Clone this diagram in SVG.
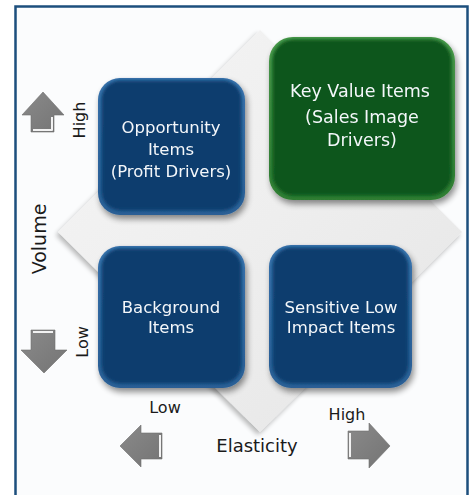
<svg xmlns="http://www.w3.org/2000/svg" width="474" height="495" viewBox="0 0 474 495">
  <defs>
    <style>
      .lbl { font-family: "DejaVu Sans", "Liberation Sans", sans-serif; fill: #1a1a1a; }
      .box-text { font-family: "DejaVu Sans", "Liberation Sans", sans-serif; fill: #f4f7fa; font-size: 16.5px; text-anchor: middle; }
      .box-text.big { font-size: 17.5px; }
      .arrow { fill: url(#arrowFill); stroke: #6e6e6e; stroke-width: 0.6; }
      .arrow-hi { fill: none; stroke: #f2f2f2; stroke-width: 2; stroke-linejoin: round; }
    </style>
    <linearGradient id="diamondFill" x1="0" y1="0" x2="1" y2="1">
      <stop offset="0" stop-color="#f5f5f5"/>
      <stop offset="0.5" stop-color="#eeeeee"/>
      <stop offset="1" stop-color="#e5e5e5"/>
    </linearGradient>
    <linearGradient id="arrowFill" x1="0" y1="0" x2="1" y2="1">
      <stop offset="0" stop-color="#8a8a8a"/>
      <stop offset="1" stop-color="#747474"/>
    </linearGradient>
    <linearGradient id="navyEdge" x1="0" y1="0" x2="0" y2="1">
      <stop offset="0" stop-color="#3a74ad"/>
      <stop offset="1" stop-color="#2a5f95"/>
    </linearGradient>
    <linearGradient id="greenEdge" x1="0" y1="0" x2="0" y2="1">
      <stop offset="0" stop-color="#4a9a4c"/>
      <stop offset="1" stop-color="#2f7d33"/>
    </linearGradient>
    <filter id="soft" x="-10%" y="-10%" width="120%" height="120%">
      <feGaussianBlur stdDeviation="1.4"/>
    </filter>
    <filter id="shadow" x="-15%" y="-15%" width="135%" height="135%">
      <feGaussianBlur in="SourceAlpha" stdDeviation="3"/>
      <feOffset dx="2" dy="4" result="b"/>
      <feComponentTransfer><feFuncA type="linear" slope="0.45"/></feComponentTransfer>
      <feMerge><feMergeNode/><feMergeNode in="SourceGraphic"/></feMerge>
    </filter>
    <filter id="diamondShadow" x="-10%" y="-10%" width="120%" height="120%">
      <feGaussianBlur in="SourceAlpha" stdDeviation="2.5"/>
      <feOffset dx="-2" dy="3" result="b"/>
      <feComponentTransfer><feFuncA type="linear" slope="0.28"/></feComponentTransfer>
      <feMerge><feMergeNode/><feMergeNode in="SourceGraphic"/></feMerge>
    </filter>
  </defs>

  <!-- frame -->
  <rect x="0" y="0" width="474" height="495" fill="#ffffff"/>
  <rect x="15.5" y="6.5" width="452" height="495" fill="#fbfcfd" stroke="#1d4f7d" stroke-width="2.5"/>

  <!-- backdrop diamond -->
  <polygon points="260,30 462,232 260,432 58,232" fill="url(#diamondFill)" filter="url(#diamondShadow)"/>

  <!-- axis arrows -->
  <g id="axis-arrows">
    <polygon class="arrow" points="43,92 64,115 54,115 54,132 31,132 31,115 22,115"/>
    <polyline class="arrow-hi" points="33,130 52,130 52,117"/>
    <polygon class="arrow" points="31,330 55,330 55,350 67,350 44,373 21,350 31,350"/>
    <polyline class="arrow-hi" points="33,332 53,332"/>
    <polygon class="arrow" points="120,446 141,425 141,433 162,433 162,459 141,459 141,467"/>
    <polyline class="arrow-hi" points="160,435 160,457"/>
    <polygon class="arrow" points="348,431 369,431 369,423 390,446 369,468 369,459 348,459"/>
    <polyline class="arrow-hi" points="350,433 350,457"/>
  </g>

  <!-- axis labels -->
  <g id="axis-labels">
    <text class="lbl" font-size="16" text-anchor="middle" transform="translate(85,120) rotate(-90)">High</text>
    <text class="lbl" font-size="19" text-anchor="middle" transform="translate(46,239) rotate(-90)">Volume</text>
    <text class="lbl" font-size="16" text-anchor="middle" transform="translate(88,342) rotate(-90)">Low</text>
    <text class="lbl" font-size="16" text-anchor="middle" x="165" y="413">Low</text>
    <text class="lbl" font-size="18" text-anchor="middle" x="257" y="452">Elasticity</text>
    <text class="lbl" font-size="16" text-anchor="middle" x="347" y="420">High</text>
  </g>

  <!-- quadrants -->
  <g id="opportunity-items" filter="url(#shadow)">
    <rect x="98" y="78" width="147" height="137" rx="22" fill="url(#navyEdge)"/>
    <rect x="101.5" y="80.5" width="140" height="130" rx="19" fill="#0c3d6e" filter="url(#soft)"/>
    <text class="box-text" x="171" y="133">Opportunity</text>
    <text class="box-text" x="171" y="155">Items</text>
    <text class="box-text" x="171" y="177">(Profit Drivers)</text>
  </g>

  <g id="key-value-items" filter="url(#shadow)">
    <rect x="269" y="37" width="186" height="163" rx="24" fill="url(#greenEdge)"/>
    <rect x="272.5" y="39.5" width="179" height="156" rx="21" fill="#0c561b" filter="url(#soft)"/>
    <text class="box-text big" x="360" y="97">Key Value Items</text>
    <text class="box-text big" x="362" y="123">(Sales Image</text>
    <text class="box-text big" x="362" y="146">Drivers)</text>
  </g>

  <g id="background-items" filter="url(#shadow)">
    <rect x="98" y="246" width="147" height="142" rx="22" fill="url(#navyEdge)"/>
    <rect x="101.5" y="248.5" width="140" height="135" rx="19" fill="#0c3d6e" filter="url(#soft)"/>
    <text class="box-text" x="171" y="313">Background</text>
    <text class="box-text" x="171" y="333">Items</text>
  </g>

  <g id="sensitive-low-impact-items" filter="url(#shadow)">
    <rect x="269" y="245" width="143" height="143" rx="22" fill="url(#navyEdge)"/>
    <rect x="272.5" y="247.5" width="136" height="136" rx="19" fill="#0c3d6e" filter="url(#soft)"/>
    <text class="box-text" x="341" y="313">Sensitive Low</text>
    <text class="box-text" x="341" y="333">Impact Items</text>
  </g>
</svg>
